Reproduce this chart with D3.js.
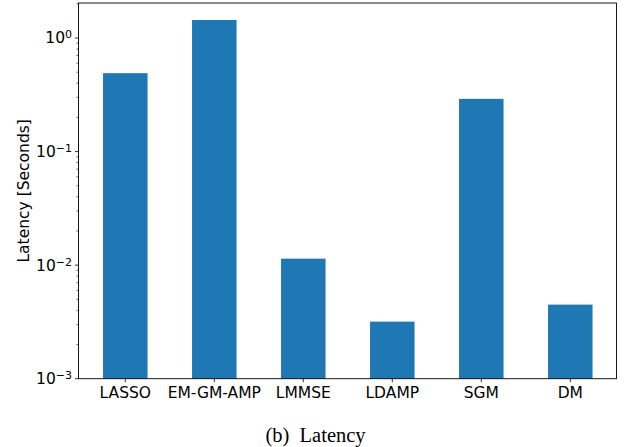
<!DOCTYPE html>
<html>
<head>
<meta charset="utf-8">
<script src="https://cdn.jsdelivr.net/npm/d3@7"></script>
<style>
  body { margin: 0; background: #fff; }
  svg { display: block; }
</style>
</head>
<body>
<div id="chart"></div>
<script>
// data
var methods = ["LASSO", "EM-GM-AMP", "LMMSE", "LDAMP", "SGM", "DM"];
var latency = [0.49, 1.44, 0.0114, 0.00318, 0.291, 0.00449];
var yTickExp = [-3, -2, -1, 0];
var yLabel = "Latency [Seconds]";
var caption = "(b)\u2002Latency";

drawBars(methods, latency, yTickExp, "#chart", 630, 447);

function drawBars(cats, vals, exps, thetag, svgW, svgH) {
  var plotL = 78.5, plotR = 616.5, plotT = 3, plotB = 378.7;

  var svg = d3.select(thetag).append("svg")
    .attr("width", svgW)
    .attr("height", svgH);

  var x = d3.scaleBand()
    .domain(cats)
    .range([80.8, 614.8])
    .paddingInner(0.5)
    .paddingOuter(0.25);

  var y = d3.scaleLog()
    .domain([1e-3, Math.pow(10, 0.308)])
    .range([plotB, plotT]);

  // bars
  svg.append("g").selectAll("rect")
    .data(cats)
    .enter()
    .append("rect")
    .attr("x", d => x(d))
    .attr("width", x.bandwidth())
    .attr("y", (d, i) => y(vals[i]))
    .attr("height", (d, i) => y(1e-3) - y(vals[i]))
    .attr("fill", "#1f77b4");

  // minor ticks
  var minor = [];
  exps.forEach(function (e) {
    for (var k = 2; k <= 9; k++) {
      var v = k * Math.pow(10, e);
      if (v <= y.domain()[1]) minor.push(v);
    }
  });
  svg.append("g").selectAll("line")
    .data(minor)
    .enter()
    .append("line")
    .attr("x1", plotL - 2).attr("x2", plotL)
    .attr("y1", d => y(d)).attr("y2", d => y(d))
    .attr("stroke", "#000").attr("stroke-width", 0.6);

  // major y ticks + labels
  var yt = svg.append("g").selectAll("g")
    .data(exps)
    .enter()
    .append("g")
    .attr("transform", d => `translate(0,${y(Math.pow(10, d))})`);
  yt.append("line")
    .attr("x1", plotL - 3.5).attr("x2", plotL)
    .attr("stroke", "#000").attr("stroke-width", 0.8);
  var lab = yt.append("text")
    .attr("x", plotL - 6.5)
    .attr("dy", "0.35em")
    .attr("text-anchor", "end")
    .attr("font-family", "DejaVu Sans")
    .attr("font-size", "15.5px")
    .attr("fill", "#000");
  lab.append("tspan").text("10");
  lab.append("tspan")
    .attr("dy", "-0.45em")
    .attr("font-size", "11px")
    .text(d => d < 0 ? "\u2212" + (-d) : d);

  // x ticks + labels
  var xt = svg.append("g").selectAll("g")
    .data(cats)
    .enter()
    .append("g")
    .attr("transform", d => `translate(${x(d) + x.bandwidth() / 2},${plotB})`);
  xt.append("line")
    .attr("y1", 0).attr("y2", 3.5)
    .attr("stroke", "#000").attr("stroke-width", 0.8);
  xt.append("text")
    .attr("y", 19.5)
    .attr("text-anchor", "middle")
    .attr("font-family", "DejaVu Sans")
    .attr("font-size", "15.5px")
    .attr("fill", "#000")
    .text(d => d);

  // frame
  svg.append("rect")
    .attr("x", plotL).attr("y", plotT)
    .attr("width", plotR - plotL).attr("height", plotB - plotT)
    .attr("fill", "none")
    .attr("stroke", "#000").attr("stroke-width", 0.9);

  // axis label
  svg.append("text")
    .attr("transform", `translate(28.5,${(plotT + plotB) / 2}) rotate(-90)`)
    .attr("text-anchor", "middle")
    .attr("font-family", "DejaVu Sans")
    .attr("font-size", "15.5px")
    .attr("fill", "#000")
    .text(yLabel);

  // caption
  svg.append("text")
    .attr("x", 315.5)
    .attr("y", 441.5)
    .attr("text-anchor", "middle")
    .attr("font-family", "Liberation Serif")
    .attr("font-size", "20.5px")
    .attr("fill", "#000")
    .text(caption);
}
</script>
</body>
</html>
